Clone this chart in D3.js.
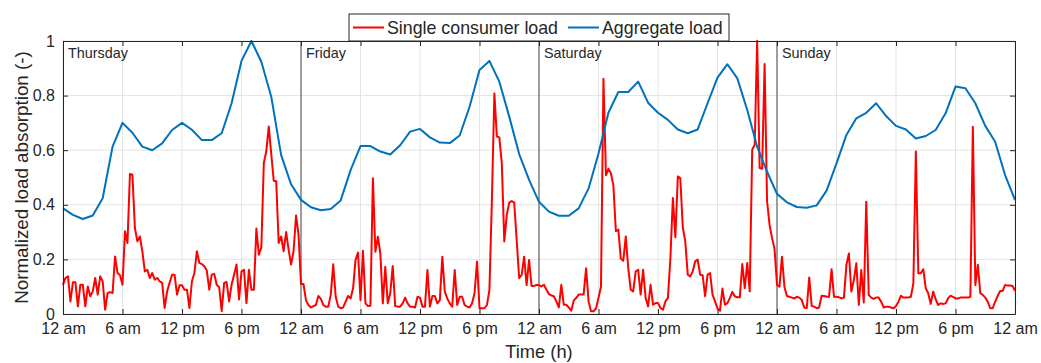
<!DOCTYPE html>
<html>
<head>
<meta charset="utf-8">
<script src="https://cdn.jsdelivr.net/npm/d3@7"></script>
<style>
  body { margin: 0; background: #fff; }
  svg text { font-family: "Liberation Sans", Arial, sans-serif; fill: #262626; }
</style>
</head>
<body>
<svg id="chart" width="1041" height="363"></svg>
<script>
// days shown along the x axis
const days = ["Thursday", "Friday", "Saturday", "Sunday"];
const xTickLabels = ["12 am", "6 am", "12 pm", "6 pm", "12 am", "6 am", "12 pm", "6 pm",
                     "12 am", "6 am", "12 pm", "6 pm", "12 am", "6 am", "12 pm", "6 pm", "12 am"];
const yTicks = [0, 0.2, 0.4, 0.6, 0.8, 1];

// aggregate load, hourly, h0..h96
const aggThu = [0.387, 0.363, 0.348, 0.361, 0.424, 0.613, 0.700, 0.664, 0.613, 0.600, 0.625, 0.674,
                0.700, 0.675, 0.637, 0.637, 0.662, 0.772, 0.927, 1.000, 0.924, 0.796, 0.582, 0.475];
const aggFri = [0.418, 0.391, 0.380, 0.385, 0.416, 0.527, 0.615, 0.615, 0.595, 0.584, 0.618, 0.668,
                0.678, 0.647, 0.628, 0.626, 0.654, 0.759, 0.894, 0.927, 0.851, 0.723, 0.586, 0.491];
const aggSat = [0.411, 0.375, 0.360, 0.360, 0.387, 0.460, 0.588, 0.737, 0.813, 0.813, 0.851, 0.774,
                0.737, 0.711, 0.676, 0.662, 0.676, 0.772, 0.866, 0.915, 0.863, 0.747, 0.613, 0.521];
const aggSun = [0.440, 0.409, 0.392, 0.389, 0.398, 0.452, 0.552, 0.656, 0.717, 0.737, 0.772, 0.725,
                0.689, 0.676, 0.643, 0.652, 0.674, 0.735, 0.833, 0.827, 0.772, 0.689, 0.631, 0.509, 0.418];

// single consumer load, every 15 min, h0..h96
const singleThu = [0.107,
  0.132, 0.138, 0.046, 0.116,  0.116, 0.028, 0.107, 0.107,  0.028, 0.101, 0.065, 0.083,
  0.132, 0.071, 0.138, 0.120,  0.016, 0.077, 0.080, 0.077,  0.211, 0.150, 0.142, 0.107,
  0.303, 0.260, 0.513, 0.510,  0.315, 0.266, 0.284, 0.230,  0.156, 0.162, 0.132, 0.150,
  0.126, 0.132, 0.120, 0.114,  0.022, 0.083, 0.114, 0.144,  0.144, 0.071, 0.105, 0.105,
  0.089, 0.089, 0.022, 0.120,  0.150, 0.230, 0.187, 0.183,  0.175, 0.159, 0.089, 0.144,
  0.147, 0.107, 0.098, 0.010,  0.114, 0.117, 0.046, 0.107,  0.144, 0.181, 0.053, 0.156,
  0.162, 0.040, 0.162, 0.089,  0.089, 0.313, 0.217, 0.244,  0.553, 0.596, 0.687, 0.586,
  0.488, 0.486, 0.260, 0.284,  0.230, 0.300, 0.236, 0.181,  0.230, 0.361, 0.291, 0.110];
const singleFri = [
  0.110, 0.051, 0.033, 0.024,  0.029, 0.033, 0.066, 0.055,  0.033, 0.027, 0.027, 0.070,
  0.182, 0.063, 0.027, 0.021,  0.024, 0.045, 0.066, 0.057,  0.094, 0.198, 0.225, 0.051,
  0.232, 0.039, 0.029, 0.030,  0.497, 0.228, 0.283, 0.222,  0.039, 0.173, 0.039, 0.076,
  0.176, 0.029, 0.027, 0.027,  0.039, 0.060, 0.039, 0.027,  0.027, 0.024, 0.063, 0.060,
  0.027, 0.027, 0.161, 0.027,  0.066, 0.066, 0.039, 0.051,  0.210, 0.082, 0.057, 0.039,
  0.027, 0.161, 0.033, 0.063,  0.063, 0.033, 0.027, 0.024,  0.039, 0.076, 0.192, 0.021,
  0.021, 0.021, 0.033, 0.088,  0.418, 0.808, 0.650, 0.647,  0.552, 0.266, 0.363, 0.408,
  0.414, 0.408, 0.271, 0.131,  0.143, 0.210, 0.106, 0.198,  0.103, 0.103, 0.106, 0.106];
const singleSat = [
  0.101, 0.107, 0.089, 0.073,  0.068, 0.065, 0.046, 0.024,  0.107, 0.034, 0.034, 0.024,
  0.012, 0.049, 0.059, 0.071,  0.071, 0.071, 0.168, 0.046,  0.010, 0.010, 0.020, 0.059,
  0.101, 0.862, 0.508, 0.532,  0.516, 0.471, 0.303, 0.309,  0.203, 0.195, 0.284, 0.168,
  0.089, 0.083, 0.156, 0.162,  0.071, 0.162, 0.059, 0.028,  0.107, 0.034, 0.040, 0.040,
  0.022, 0.016, 0.046, 0.059,  0.205, 0.425, 0.281, 0.504,  0.498, 0.317, 0.266, 0.144,
  0.138, 0.156, 0.193, 0.199,  0.144, 0.142, 0.065, 0.144,  0.150, 0.071, 0.046, 0.020,
  0.012, 0.093, 0.034, 0.040,  0.059, 0.081, 0.065, 0.061,  0.061, 0.183, 0.095, 0.187,
  0.083, 0.602, 0.620, 1.000,  0.535, 0.532, 0.916, 0.413,  0.327, 0.278, 0.239, 0.107];
const singleSun = [
  0.100, 0.210, 0.100, 0.066,  0.063, 0.060, 0.057, 0.063,  0.060, 0.051, 0.024, 0.021,
  0.134, 0.029, 0.027, 0.021,  0.024, 0.067, 0.066, 0.063,  0.063, 0.164, 0.063, 0.063,
  0.061, 0.057, 0.060, 0.180,  0.222, 0.082, 0.125, 0.186,  0.033, 0.161, 0.042, 0.411,
  0.070, 0.060, 0.055, 0.060,  0.060, 0.045, 0.024, 0.027,  0.027, 0.024, 0.021, 0.029,
  0.045, 0.067, 0.060, 0.060,  0.060, 0.063, 0.112, 0.595,  0.149, 0.149, 0.164, 0.094,
  0.076, 0.037, 0.082, 0.054,  0.033, 0.039, 0.037, 0.039,  0.057, 0.067, 0.063, 0.057,
  0.057, 0.060, 0.060, 0.060,  0.060, 0.063, 0.686, 0.106,  0.180, 0.076, 0.070, 0.060,
  0.045, 0.021, 0.021, 0.045,  0.066, 0.084, 0.084, 0.106,  0.104, 0.104, 0.103, 0.085];

const aggregate = aggThu.concat(aggFri, aggSat, aggSun).map((v, i) => [i, v]);
const single = singleThu.concat(singleFri, singleSat, singleSun).map((v, i) => [i / 4, v]);

const margin = {left: 63, right: 26, top: 41, bottom: 49};
const width = 1041, height = 363;

const x = d3.scaleLinear().domain([0, 96]).range([margin.left, width - margin.right]);
const y = d3.scaleLinear().domain([0, 1]).range([height - margin.bottom, margin.top]);

const svg = d3.select('#chart');
const x0 = x(0), x1 = x(96), y0 = y(0), y1 = y(1);

// grid
const xTickVals = d3.range(0, 97, 6);
svg.append('g')
  .selectAll('line')
  .data(xTickVals)
  .enter()
  .append('line')
  .attr('x1', d => x(d)).attr('x2', d => x(d))
  .attr('y1', y0).attr('y2', y1)
  .style('stroke', '#e3e3e3').style('stroke-width', 1);
svg.append('g')
  .selectAll('line')
  .data(yTicks)
  .enter()
  .append('line')
  .attr('x1', x0).attr('x2', x1)
  .attr('y1', d => y(d)).attr('y2', d => y(d))
  .style('stroke', '#e3e3e3').style('stroke-width', 1);

// day separators + names
svg.append('g')
  .selectAll('line')
  .data([24, 48, 72])
  .enter()
  .append('line')
  .attr('x1', d => x(d)).attr('x2', d => x(d))
  .attr('y1', y0).attr('y2', y1)
  .style('stroke', '#707070').style('stroke-width', 1.3);

svg.append('g')
  .selectAll('text')
  .data(days)
  .enter()
  .append('text')
  .attr('x', (d, i) => x(i * 24) + 5)
  .attr('y', y1 + 17)
  .style('font-size', '14.4px')
  .text(d => d);

// lines
const line = d3.line().x(d => x(d[0])).y(d => y(d[1]));

svg.append('path')
  .datum(single)
  .attr('d', line)
  .style('fill', 'none')
  .style('stroke', '#ff0000')
  .style('stroke-width', 2)
  .style('stroke-linejoin', 'round');

svg.append('path')
  .datum(aggregate)
  .attr('d', line)
  .style('fill', 'none')
  .style('stroke', '#0072bd')
  .style('stroke-width', 2)
  .style('stroke-linejoin', 'round');

// axes
const xAxis = d3.axisBottom(x)
  .tickValues(xTickVals)
  .tickFormat((d, i) => xTickLabels[i])
  .tickSizeInner(-5).tickSizeOuter(0).tickPadding(9);
const gx = svg.append('g').attr('transform', `translate(0,${y0})`).call(xAxis);

const xAxisTop = d3.axisTop(x).tickValues(xTickVals).tickFormat('').tickSizeInner(-5).tickSizeOuter(0);
const gxt = svg.append('g').attr('transform', `translate(0,${y1})`).call(xAxisTop);

const yAxis = d3.axisLeft(y)
  .tickValues(yTicks)
  .tickFormat(d3.format('~g'))
  .tickSizeInner(-5).tickSizeOuter(0).tickPadding(8);
const gy = svg.append('g').attr('transform', `translate(${x0},0)`).call(yAxis);

const yAxisRight = d3.axisRight(y).tickValues(yTicks).tickFormat('').tickSizeInner(-5).tickSizeOuter(0);
const gyr = svg.append('g').attr('transform', `translate(${x1},0)`).call(yAxisRight);

[gx, gxt, gy, gyr].forEach(g => {
  g.select('.domain').style('stroke', '#262626').style('stroke-width', 1);
  g.selectAll('.tick line').style('stroke', '#262626').style('stroke-width', 1);
  g.selectAll('.tick text')
    .style('font-family', '"Liberation Sans", Arial, sans-serif')
    .style('font-size', '16px')
    .style('fill', '#262626');
});

// axis titles
svg.append('text')
  .attr('x', (x0 + x1) / 2)
  .attr('y', 358)
  .attr('text-anchor', 'middle')
  .style('font-size', '18.3px')
  .text('Time (h)');

svg.append('text')
  .attr('transform', `translate(28,${(y0 + y1) / 2}) rotate(-90)`)
  .attr('text-anchor', 'middle')
  .style('font-size', '18.8px')
  .text('Normalized load absorption (-)');

// legend
const legend = svg.append('g');
legend.append('rect')
  .attr('x', 349).attr('y', 14)
  .attr('width', 380).attr('height', 27)
  .style('fill', '#fff')
  .style('stroke', '#262626')
  .style('stroke-width', 1);

const legendItems = [
  {name: 'Single consumer load', color: '#ff0000', lx: 353},
  {name: 'Aggregate load', color: '#0072bd', lx: 568}
];
legend.selectAll('g.item')
  .data(legendItems)
  .enter()
  .append('g')
  .classed('item', true)
  .each(function(d) {
    const g = d3.select(this);
    g.append('line')
      .attr('x1', d.lx).attr('x2', d.lx + 31)
      .attr('y1', 27.5).attr('y2', 27.5)
      .style('stroke', d.color).style('stroke-width', 2);
    g.append('text')
      .attr('x', d.lx + 34)
      .attr('y', 33.5)
      .style('font-size', '17.8px')
      .text(d.name);
  });
</script>
</body>
</html>
